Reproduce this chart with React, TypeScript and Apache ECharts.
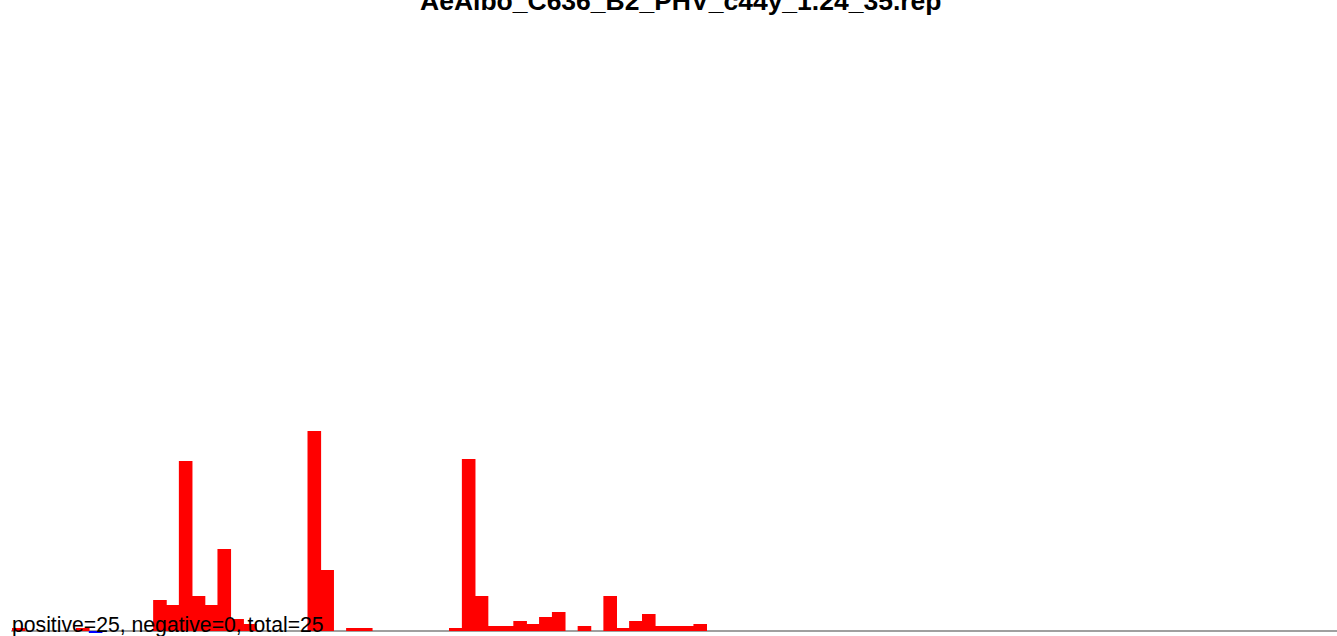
import React, { useEffect, useRef } from "react";
import * as echarts from "echarts";

const titleText = "AeAlbo_C636_B2_PHV_c44y_1.24_35.rep";
const summaryText = "positive=25, negative=0, total=25";

// 103 bins along the x axis
const binCount = 103;
// positive (red) bar heights per bin, keyed by bin index
const positiveBins: [number, number][] = [
  [0, 3], [5, 3], [11, 31], [12, 26], [13, 170], [14, 35], [15, 26], [16, 82],
  [17, 12], [18, 7], [23, 200], [24, 61], [26, 3], [27, 3], [34, 3], [35, 172],
  [36, 35], [37, 5], [38, 5], [39, 10], [40, 7], [41, 14], [42, 19], [44, 5],
  [46, 35], [47, 3], [48, 10], [49, 17], [50, 5], [51, 5], [52, 5], [53, 7],
];
// negative (blue) bar heights per bin
const negativeBins: [number, number][] = [[6, -2]];

const categories = Array.from({ length: binCount }, (_, i) => String(i));

function toSeries(pairs: [number, number][]) {
  const arr: (number | null)[] = Array.from({ length: binCount }, () => null);
  pairs.forEach(([i, v]) => (arr[i] = v));
  return arr;
}

export default function App() {
  const ref = useRef<HTMLDivElement>(null);
  useEffect(() => {
    if (!ref.current) return;
    const chart = echarts.init(ref.current, null, { renderer: "svg" });
    chart.setOption({
      animation: false,
      backgroundColor: "#ffffff",
      title: {
        text: titleText,
        left: 415,
        top: -18,
        textStyle: {
          fontFamily: "Liberation Sans",
          fontWeight: "bold",
          fontSize: 26.5,
          color: "#000",
        },
      },
      grid: { left: 12, top: 31, width: 1328, bottom: 0 },
      xAxis: {
        type: "category",
        data: categories,
        boundaryGap: true,
        axisLine: { show: true, lineStyle: { color: "#a0a0a0", width: 2 } },
        axisTick: { show: false },
        axisLabel: { show: false },
        splitLine: { show: false },
      },
      yAxis: {
        type: "value",
        min: -5,
        max: 600,
        show: false,
        splitLine: { show: false },
      },
      series: [
        {
          type: "bar",
          data: toSeries(positiveBins),
          itemStyle: { color: "#ff0000" },
          barWidth: 13.6,
          barGap: "-100%",
          z: 3,
        },
        {
          type: "bar",
          data: toSeries(negativeBins),
          itemStyle: { color: "#0000ff" },
          barWidth: 13.6,
          barGap: "-100%",
          z: 3,
        },
      ],
      graphic: [
        {
          type: "text",
          left: 12,
          top: 614,
          z: 100,
          style: {
            text: summaryText,
            fontFamily: "Liberation Sans",
            fontSize: 21.2,
            fill: "#000",
          },
        },
      ],
    });
    return () => chart.dispose();
  }, []);
  return (
    <div
      ref={ref}
      style={{ position: "fixed", left: 0, top: 0, width: 1337, height: 636 }}
    />
  );
}
